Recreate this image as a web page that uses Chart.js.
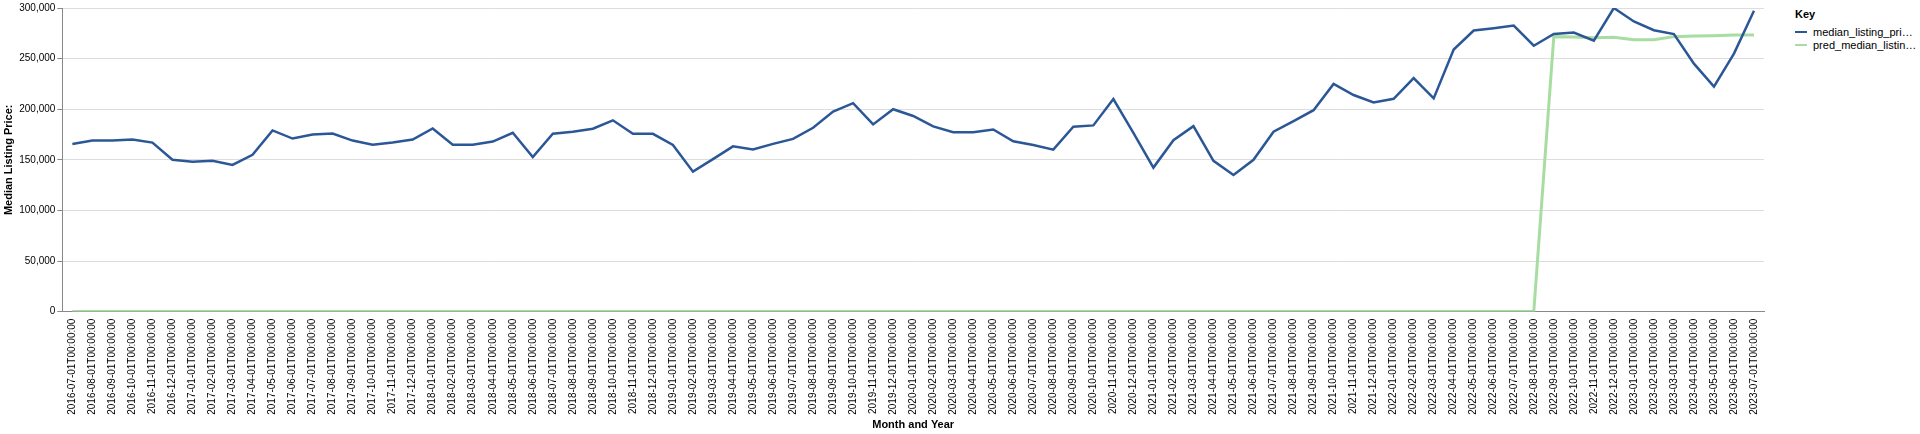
<!DOCTYPE html>
<html>
<head>
<meta charset="utf-8">
<script src="https://cdn.jsdelivr.net/npm/chart.js@4/dist/chart.umd.min.js"></script>
<style>
  body { margin: 0; background: #fff; font-family: "Liberation Sans", Arial, sans-serif; }
  #wrap { position: absolute; left: 0; top: 0; width: 1776px; height: 434px; }
  #legend { position: absolute; left: 1795px; top: 8px; font-size: 11px; color: #000; }
  #legend .title { font-weight: bold; font-size: 11px; margin-bottom: 5px; }
  #legend .item { display: flex; align-items: center; height: 13px; }
  #legend .sw { width: 12px; height: 2px; margin-right: 6px; }
</style>
</head>
<body>
<div id="wrap"><canvas id="chart"></canvas></div>
<div id="legend">
  <div class="title">Key</div>
  <div class="item"><span class="sw" style="background:#2b5797"></span>median_listing_pri…</div>
  <div class="item"><span class="sw" style="background:#a8dda2"></span>pred_median_listin…</div>
</div>
<script>
// Months from 2016-07 to 2023-07
const months = [];
for (let y = 2016; y <= 2023; y++) {
  for (let m = 1; m <= 12; m++) {
    if ((y === 2016 && m < 7) || (y === 2023 && m > 7)) continue;
    months.push(`${y}-${String(m).padStart(2, '0')}-01T00:00:00`);
  }
}

const medianPrice = [
  165700, 169000, 169000, 170000, 167000, 150000, 148000, 149000, 145000, 155000,
  179000, 171000, 175000, 176000, 169000, 165000, 167000, 170000, 181000, 165000,
  165000, 168000, 176700, 152700, 175700, 177700, 180700, 189000, 175700, 175700,
  164700, 138300, 150700, 163300, 160300, 165700, 170700, 181700, 197700, 206000,
  185000, 200000, 193300, 183000, 177300, 177300, 180000, 168300, 164700, 160000,
  182700, 184000, 210000, 176700, 142300, 169300, 183300, 149000, 135000, 150000,
  177700, 188300, 199000, 225000, 214000, 206700, 210300, 230700, 210700, 259000,
  277700, 280000, 282700, 262700, 274300, 275700, 267700, 300000, 286700, 278000,
  274300, 245000, 222300, 255000, 297300
];

const predPrice = new Array(74).fill(0).concat([
  271700, 271300, 270700, 271000, 268700, 268700, 271700, 272300, 272700, 273300, 273300
]);

const yTicks = [0, 50000, 100000, 150000, 200000, 250000, 300000];

const ctx = document.getElementById('chart').getContext('2d');
new Chart(ctx, {
  type: 'line',
  data: {
    labels: months,
    datasets: [
      { label: 'median_listing_price', data: medianPrice, borderColor: '#2b5797', borderWidth: 2.5, pointRadius: 0, tension: 0 },
      { label: 'pred_median_listing_price', data: predPrice, borderColor: '#a8dda2', borderWidth: 3, pointRadius: 0, tension: 0 }
    ]
  },
  options: {
    responsive: true,
    maintainAspectRatio: false,
    animation: false,
    layout: { padding: { top: 7, right: 12, left: 0 } },
    plugins: { legend: { display: false }, tooltip: { enabled: false } },
    scales: {
      x: {
        offset: true,
        grid: { display: false, drawTicks: true, tickLength: 5, color: '#888' },
        border: { color: '#888' },
        ticks: { autoSkip: false, maxRotation: 90, minRotation: 90, color: '#000', font: { size: 10, family: 'Liberation Sans' }, padding: 2 },
        title: { display: true, text: 'Month and Year', color: '#000', font: { size: 11, weight: 'bold', family: 'Liberation Sans' }, padding: 2 }
      },
      y: {
        min: 0, max: 300000,
        afterBuildTicks: axis => { axis.ticks = yTicks.map(v => ({ value: v })); },
        grid: { color: '#ddd', tickLength: 5, tickColor: '#888' },
        border: { color: '#888' },
        ticks: { color: '#000', font: { size: 10, family: 'Liberation Sans' }, padding: 2, callback: v => v.toLocaleString('en-US') },
        title: { display: true, text: 'Median Listing Price:', color: '#000', font: { size: 11, weight: 'bold', family: 'Liberation Sans' }, padding: 2 }
      }
    }
  }
});
</script>
</body>
</html>
